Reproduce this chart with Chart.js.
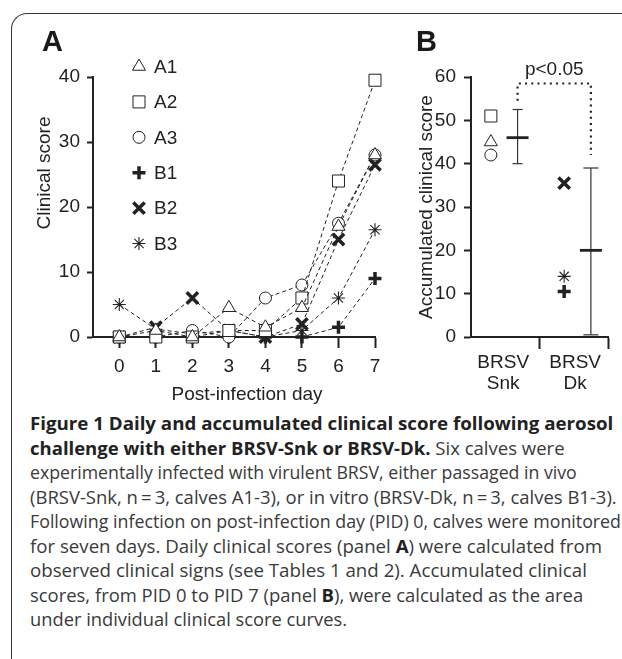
<!DOCTYPE html>
<html><head><meta charset="utf-8">
<script src="https://cdn.jsdelivr.net/npm/chart.js@4.4.1/dist/chart.umd.min.js"></script>
<style>
html,body{margin:0;padding:0;background:#fff;}
body{width:622px;height:659px;position:relative;overflow:hidden;font-family:"Liberation Sans",Arial,sans-serif;color:#222;}
#frame{position:absolute;left:11px;top:13px;width:660px;height:720px;border-top:1.7px solid #333;border-left:1.7px solid #333;border-top-left-radius:16px;box-sizing:border-box;}
#cA{position:absolute;left:0;top:0;}
#cB{position:absolute;left:395px;top:0;}
.plabel{position:absolute;font-weight:bold;font-size:29px;line-height:1;color:#1a1a1a;}
.atitle{position:absolute;font-size:19px;line-height:1;white-space:nowrap;color:#222;}
.cap{position:absolute;left:30px;white-space:nowrap;width:max-content;font-family:"Open Sans",sans-serif;font-size:18px;line-height:1;color:#3a3a3a;transform-origin:0 50%;}
.cap b{color:#222;font-weight:700;}
</style></head>
<body>
<div id="frame"></div>
<canvas id="cA" width="395" height="410"></canvas>
<canvas id="cB" width="227" height="410"></canvas>
<div class="plabel" style="left:42px;top:27px;">A</div>
<div class="plabel" style="left:416px;top:27px;">B</div>
<div class="atitle" id="yTitleA" style="left:43px;top:173px;transform:translate(-50%,-50%) rotate(-90deg);">Clinical score</div>
<div class="atitle" id="xTitleA" style="left:247px;top:393px;transform:translate(-50%,-50%);">Post-infection day</div>
<div id="caption"></div>
<script>
// ---------- data ----------
const days = [0, 1, 2, 3, 4, 5, 6, 7];
const calves = ['A1', 'A2', 'A3', 'B1', 'B2', 'B3'];
const scoreA1 = [0, 1, 0, 4.5, 1.5, 4.5, 17, 28];
const scoreA2 = [0, 0, 0, 1, 1, 6, 24, 39.5];
const scoreA3 = [0, 0, 1, 0, 6, 8, 17.5, 28];
const scoreB1 = [0, 0, 0, 0, 0, 0, 1.5, 9];
const scoreB2 = [0, 1.5, 6, 1, 0, 2, 15, 26.5];
const scoreB3 = [5, 1.2, 0.5, 1, 0, 1, 6, 16.5];
const xTicksA = [0, 1, 2, 3, 4, 5, 6, 7];
const yTicksA = [0, 10, 20, 30, 40];

const groups = [['BRSV', 'Snk'], ['BRSV', 'Dk']];
const accSnk = [45, 51, 42];      // A1, A2, A3
const accDk = [10.5, 35.5, 14];   // B1, B2, B3
const accMean = [46, 20];
const accLow = [40, 0.5];
const accHigh = [52.5, 39];
const yTicksB = [0, 10, 20, 30, 40, 50, 60];
const sigLabel = 'p<0.05';
const sigLevels = [54.5, 58.5, 42]; // left end, top, right end
const yTitleB = 'Accumulated clinical score';

// ---------- styles ----------
const INK = '#222';
const markerStyle = {
  A1: {ps: 'triangle', r: 7.5, bw: 1},
  A2: {ps: 'rect', r: 8.5, bw: 1},
  A3: {ps: 'circle', r: 6, bw: 1},
  B1: {ps: 'cross', r: 6.5, bw: 3.5},
  B2: {ps: 'crossRot', r: 8, bw: 3.5},
  B3: {ps: 'star', r: 6.5, bw: 1.1}
};
const groupPos = [0.48, 1.55];
const markerOff = -0.19, meanOff = 0.2;
const labelPos = [0.47, 1.52];
const capR = [5, 7.5];

Chart.defaults.font.family = '"Liberation Sans", Arial, sans-serif';
Chart.defaults.font.size = 19;
Chart.defaults.color = INK;

const seriesA = [scoreA1, scoreA2, scoreA3, scoreB1, scoreB2, scoreB3];
const dsA = calves.map((c, k) => ({
  type: 'line', label: c,
  data: days.map((d, i) => ({x: d, y: seriesA[k][i]})),
  borderColor: INK, borderWidth: 1, borderDash: [4, 3], tension: 0,
  pointStyle: markerStyle[c].ps, pointRadius: markerStyle[c].r,
  pointBorderWidth: markerStyle[c].bw, pointBackgroundColor: '#fff',
  pointBorderColor: INK, clip: false, fill: false
}));

const legendPlugin = {
  id: 'calfLegend',
  afterDatasetsDraw(chart, args, o) {
    const ctx = chart.ctx;
    chart.data.datasets.forEach((ds, i) => {
      const y = o.top + i * o.gap;
      ctx.save();
      ctx.setLineDash([]);
      ctx.strokeStyle = ds.pointBorderColor;
      ctx.fillStyle = ds.pointBackgroundColor;
      ctx.lineWidth = ds.pointBorderWidth;
      Chart.helpers.drawPoint(ctx, {pointStyle: ds.pointStyle, radius: ds.pointRadius, borderWidth: ds.pointBorderWidth, rotation: 0}, o.markerX, y);
      ctx.fillStyle = INK;
      ctx.font = '19px "Liberation Sans", Arial, sans-serif';
      ctx.textBaseline = 'middle';
      ctx.textAlign = 'left';
      ctx.fillText(ds.label, o.textX, y + 1);
      ctx.restore();
    });
  }
};

new Chart(document.getElementById('cA'), {
  data: {datasets: dsA},
  options: {
    responsive: false, animation: false, devicePixelRatio: 1,
    layout: {padding: {top: 77, right: 20, left: 0, bottom: 0}},
    plugins: {legend: {display: false}, tooltip: {enabled: false},
      calfLegend: {markerX: 139, textX: 154, top: 66.5, gap: 35.4}},
    scales: {
      x: {type: 'linear', min: -0.72, max: 7,
        afterBuildTicks: s => { s.ticks = xTicksA.map(v => ({value: v})); },
        afterFit: s => { s.height = 73; },
        ticks: {padding: 7, maxRotation: 0, autoSkip: false},
        grid: {display: true, drawOnChartArea: false, drawTicks: true, tickLength: 11, tickWidth: 2, tickColor: INK},
        border: {display: true, width: 2, color: INK}},
      y: {type: 'linear', min: 0, max: 40,
        afterBuildTicks: s => { s.ticks = yTicksA.map(v => ({value: v})); },
        afterFit: s => { s.width = 93; },
        ticks: {padding: 7},
        grid: {display: true, drawOnChartArea: false, drawTicks: true, tickLength: 6, tickWidth: 2, tickColor: INK},
        border: {display: true, width: 2, color: INK}}
    }
  },
  plugins: [legendPlugin]
});

// ---------- panel B ----------
const snkCalves = calves.slice(0, 3), dkCalves = calves.slice(3);
const dsB = [
  {type: 'scatter', data: accSnk.map(v => ({x: groupPos[0] + markerOff, y: v})),
   pointStyle: snkCalves.map(c => markerStyle[c].ps), pointRadius: snkCalves.map(c => markerStyle[c].r),
   pointBorderWidth: snkCalves.map(c => markerStyle[c].bw), pointBackgroundColor: '#fff', pointBorderColor: INK, clip: false},
  {type: 'scatter', data: accDk.map(v => ({x: groupPos[1] + markerOff, y: v})),
   pointStyle: dkCalves.map(c => markerStyle[c].ps), pointRadius: dkCalves.map(c => markerStyle[c].r),
   pointBorderWidth: dkCalves.map(c => markerStyle[c].bw), pointBackgroundColor: '#fff', pointBorderColor: INK, clip: false},
  {type: 'scatter', data: accMean.map((v, g) => ({x: groupPos[g] + meanOff, y: v})),
   pointStyle: 'line', pointRadius: 11, pointBorderWidth: 2.8, pointBorderColor: INK, clip: false}
];
accMean.forEach((m, g) => {
  dsB.push({type: 'line', data: [{x: groupPos[g] + meanOff, y: accLow[g]}, {x: groupPos[g] + meanOff, y: accHigh[g]}],
    borderColor: '#333', borderWidth: 1.2, pointStyle: 'line', pointRadius: capR[g], pointBorderWidth: 1.2,
    pointBorderColor: '#333', clip: false});
});
const xa = groupPos[0] + meanOff, xb = groupPos[1] + meanOff;
dsB.push({type: 'line', data: [{x: xa, y: sigLevels[0]}, {x: xa, y: sigLevels[1]}, {x: xb, y: sigLevels[1]}, {x: xb, y: sigLevels[2]}],
  borderColor: INK, borderWidth: 2.2, borderDash: [2, 4.2], pointRadius: 0, clip: false});

const sigPlugin = {
  id: 'sigText',
  afterDraw(chart) {
    const {ctx, scales: {x, y}} = chart;
    ctx.save();
    ctx.font = '19px "Liberation Sans", Arial, sans-serif';
    ctx.fillStyle = INK; ctx.textAlign = 'center'; ctx.textBaseline = 'middle';
    ctx.fillText(sigLabel, x.getPixelForValue((xa + xb) / 2), y.getPixelForValue(61.6));
    ctx.restore();
  }
};

new Chart(document.getElementById('cB'), {
  data: {datasets: dsB},
  options: {
    responsive: false, animation: false, devicePixelRatio: 1,
    layout: {padding: {top: 77, right: 14, left: 0, bottom: 0}},
    plugins: {legend: {display: false}, tooltip: {enabled: false}},
    scales: {
      x: {type: 'linear', min: 0, max: 2,
        afterBuildTicks: s => { s.ticks = [{value: labelPos[0]}, {value: 1}, {value: labelPos[1]}, {value: 2}]; },
        afterFit: s => { s.height = 73; },
        ticks: {padding: 3, maxRotation: 0, autoSkip: false, font: {size: 19, lineHeight: 1.1},
          callback: v => v === labelPos[0] ? groups[0] : (v === labelPos[1] ? groups[1] : '')},
        grid: {display: true, drawOnChartArea: false, drawTicks: true, tickLength: 12, tickWidth: 2,
          tickColor: c => (c.tick && Number.isInteger(c.tick.value)) ? INK : 'rgba(0,0,0,0)'},
        border: {display: true, width: 2, color: INK}},
      y: {type: 'linear', min: 0, max: 60,
        afterBuildTicks: s => { s.ticks = yTicksB.map(v => ({value: v})); },
        afterFit: s => { s.width = 76; },
        ticks: {padding: 8},
        title: {display: true, text: yTitleB, font: {size: 19}, padding: {top: 20, bottom: 0}},
        grid: {display: true, drawOnChartArea: false, drawTicks: true, tickLength: 7, tickWidth: 2, tickColor: INK},
        border: {display: true, width: 2, color: INK}}
    }
  },
  plugins: [sigPlugin]
});

// ---------- caption ----------
const capLines = [
  '<b>Figure 1 Daily and accumulated clinical score following aerosol</b>',
  '<b>challenge with either BRSV-Snk or BRSV-Dk.</b> Six calves were',
  'experimentally infected with virulent BRSV, either passaged in vivo',
  '(BRSV-Snk, n\u2009=\u20093, calves A1-3), or in vitro (BRSV-Dk, n\u2009=\u20093, calves B1-3).',
  'Following infection on post-infection day (PID) 0, calves were monitored',
  'for seven days. Daily clinical scores (panel <b>A</b>) were calculated from',
  'observed clinical signs (see Tables 1 and 2). Accumulated clinical',
  'scores, from PID 0 to PID 7 (panel <b>B</b>), were calculated as the area',
  'under individual clinical score curves.'
];
const capRight = [613, 565, 577, 617, 621, 602, 587, 583, null];
const cap = document.getElementById('caption');
const capDivs = capLines.map((h, i) => {
  const d = document.createElement('div');
  d.className = 'cap';
  d.innerHTML = h;
  d.style.top = (414 + i * 24.5) + 'px';
  cap.appendChild(d);
  return d;
});
function fitCaption() {
  const scales = capDivs.map((d, i) => {
    d.style.transform = 'none';
    const w = d.scrollWidth || d.getBoundingClientRect().width;
    return capRight[i] ? (capRight[i] - 30) / w : null;
  });
  const fixed = scales.filter(s => s !== null);
  const meanScale = fixed.slice(2).reduce((a, b) => a + b, 0) / (fixed.length - 2);
  capDivs.forEach((d, i) => {
    d.style.transform = 'scaleX(' + (scales[i] !== null ? scales[i] : meanScale) + ')';
  });
}
fitCaption();
Promise.all([
  document.fonts.load('18px "Open Sans"'),
  document.fonts.load('bold 18px "Open Sans"')
]).then(() => document.fonts.ready).then(fitCaption).catch(fitCaption);
</script>
</body></html>
